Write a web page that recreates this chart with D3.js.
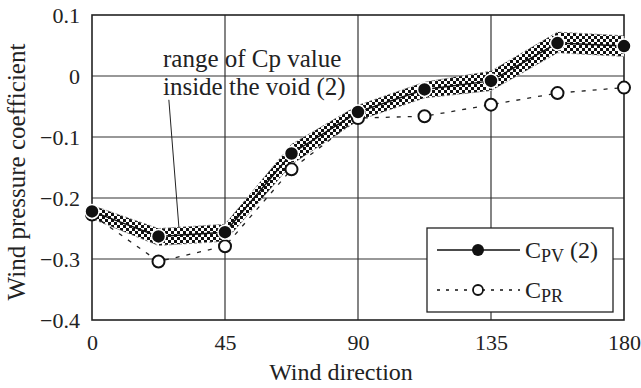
<!DOCTYPE html>
<html><head><meta charset="utf-8">
<script src="https://cdn.jsdelivr.net/npm/d3@7/dist/d3.min.js"></script>
<style>
html,body{margin:0;padding:0;background:#fff;}
svg text{font-family:"Liberation Serif","Times New Roman",serif;fill:#222;}
</style></head>
<body><svg id="c" width="641" height="388"></svg>
<script>
const directions = [0, 22.5, 45, 67.5, 90, 112.5, 135, 157.5, 180];
const cpv = [-0.222, -0.263, -0.256, -0.127, -0.059, -0.022, -0.008, 0.054, 0.049];
const cpr = [-0.227, -0.304, -0.279, -0.153, -0.069, -0.066, -0.047, -0.028, -0.019];
const bandUpper = [-0.212, -0.250, -0.243, -0.112, -0.048, -0.010, 0.008, 0.072, 0.066];
const bandLower = [-0.234, -0.278, -0.271, -0.145, -0.073, -0.036, -0.024, 0.038, 0.032];
const xTicks = [0, 45, 90, 135, 180];
const yTicks = [0.1, 0, -0.1, -0.2, -0.3, -0.4];
const annotationLines = ["range of Cp value", "inside the void (2)"];
const annotationLeader = [[26, -0.039], [29.4, -0.248]];

const svg = d3.select("#c");
const L = 92, R = 624, T = 15, B = 320;
const x = d3.scaleLinear().domain([0, 180]).range([L, R]);
const y = d3.scaleLinear().domain([-0.4, 0.1]).range([B, T]);
const fmt = v => v === 0 ? "0" : (v < 0 ? "\u2212" + Math.abs(v).toFixed(1) : v.toFixed(1));

// pattern
const defs = svg.append("defs");
const pat = defs.append("pattern").attr("id","chk").attr("width",6).attr("height",6)
  .attr("patternUnits","userSpaceOnUse");
pat.append("rect").attr("width",6).attr("height",6).attr("fill","#fff");
pat.append("rect").attr("x",0).attr("y",0).attr("width",3).attr("height",3).attr("fill","#111");
pat.append("rect").attr("x",3).attr("y",3).attr("width",3).attr("height",3).attr("fill","#111");

// grid
const g = svg.append("g");
g.selectAll(".gx").data(xTicks.slice(1,-1)).enter().append("line")
  .attr("x1",d=>x(d)).attr("x2",d=>x(d)).attr("y1",T).attr("y2",B)
  .attr("stroke","#333").attr("stroke-width",1.2);
g.selectAll(".gy").data(yTicks.slice(1,-1)).enter().append("line")
  .attr("x1",L).attr("x2",R).attr("y1",d=>y(d)).attr("y2",d=>y(d))
  .attr("stroke","#333").attr("stroke-width",1.2);

// axes
const xAxis = d3.axisBottom(x).tickValues(xTicks).tickSize(0).tickPadding(14);
const ax = svg.append("g").attr("transform",`translate(0,${B})`).call(xAxis);
ax.select(".domain").remove();
ax.selectAll("text").attr("font-size",22).attr("font-family","Liberation Serif").attr("fill","#222");
const yAxis = d3.axisLeft(y).tickValues(yTicks).tickSize(0).tickPadding(12).tickFormat(fmt);
const ay = svg.append("g").attr("transform",`translate(${L},0)`).call(yAxis);
ay.select(".domain").remove();
ay.selectAll("text").attr("font-size",22).attr("font-family","Liberation Serif").attr("fill","#222");

// frame
svg.append("rect").attr("x",L).attr("y",T).attr("width",R-L).attr("height",B-T)
  .attr("fill","none").attr("stroke","#222").attr("stroke-width",1.6);

// band
const idx = d3.range(directions.length);
const area = d3.area().x(i=>x(directions[i])).y0(i=>y(bandLower[i])).y1(i=>y(bandUpper[i]));
svg.append("path").datum(idx).attr("d",area).attr("fill","url(#chk)")
  .attr("stroke","#888").attr("stroke-width",0.8).attr("stroke-dasharray","3,2");

// CPR line
const lineR = d3.line().x(i=>x(directions[i])).y(i=>y(cpr[i]));
svg.append("path").datum(idx).attr("d",lineR).attr("fill","none")
  .attr("stroke","#222").attr("stroke-width",1.3).attr("stroke-dasharray","4,7");
// CPV line
const lineV = d3.line().x(i=>x(directions[i])).y(i=>y(cpv[i]));
svg.append("path").datum(idx).attr("d",lineV).attr("fill","none")
  .attr("stroke","#111").attr("stroke-width",1.5);

// markers
svg.selectAll(".mr").data(idx).enter().append("circle")
  .attr("cx",i=>x(directions[i])).attr("cy",i=>y(cpr[i])).attr("r",6)
  .attr("fill","#fff").attr("stroke","#111").attr("stroke-width",2);
svg.selectAll(".mv").data(idx).enter().append("circle")
  .attr("cx",i=>x(directions[i])).attr("cy",i=>y(cpv[i])).attr("r",7)
  .attr("fill","#111").attr("stroke","#fff").attr("stroke-width",1.5);

// annotation
const ann = svg.append("g");
annotationLines.forEach((t,k)=>{
  ann.append("text").attr("x",163).attr("y",67+k*28).attr("font-size",25).text(t);
});
ann.append("line").attr("x1",x(annotationLeader[0][0])).attr("y1",y(annotationLeader[0][1]))
  .attr("x2",x(annotationLeader[1][0])).attr("y2",y(annotationLeader[1][1]))
  .attr("stroke","#222").attr("stroke-width",1);

// legend
const lg = svg.append("g");
lg.append("rect").attr("x",427).attr("y",228).attr("width",186).attr("height",84)
  .attr("fill","#fff").attr("stroke","#222").attr("stroke-width",1.3);
lg.append("line").attr("x1",437).attr("x2",520).attr("y1",250).attr("y2",250).attr("stroke","#111").attr("stroke-width",1.5);
lg.append("circle").attr("cx",478).attr("cy",250).attr("r",6).attr("fill","#111");
lg.append("line").attr("x1",437).attr("x2",520).attr("y1",290).attr("y2",290).attr("stroke","#111").attr("stroke-width",1.3).attr("stroke-dasharray","3,6");
lg.append("circle").attr("cx",478).attr("cy",290).attr("r",5).attr("fill","#fff").attr("stroke","#111").attr("stroke-width",1.8);
const t1 = lg.append("text").attr("x",525).attr("y",258).attr("font-size",24);
t1.append("tspan").text("C");
t1.append("tspan").attr("font-size",18).attr("dy",4).text("PV");
t1.append("tspan").attr("dy",-4).text(" (2)");
const t2 = lg.append("text").attr("x",525).attr("y",298).attr("font-size",24);
t2.append("tspan").text("C");
t2.append("tspan").attr("font-size",18).attr("dy",4).text("PR");

// axis titles
svg.append("text").attr("x",341).attr("y",380).attr("text-anchor","middle").attr("font-size",24).text("Wind direction");
svg.append("text").attr("transform","translate(25,172) rotate(-90)").attr("text-anchor","middle").attr("font-size",25).text("Wind pressure coefficient");
</script></body></html>
